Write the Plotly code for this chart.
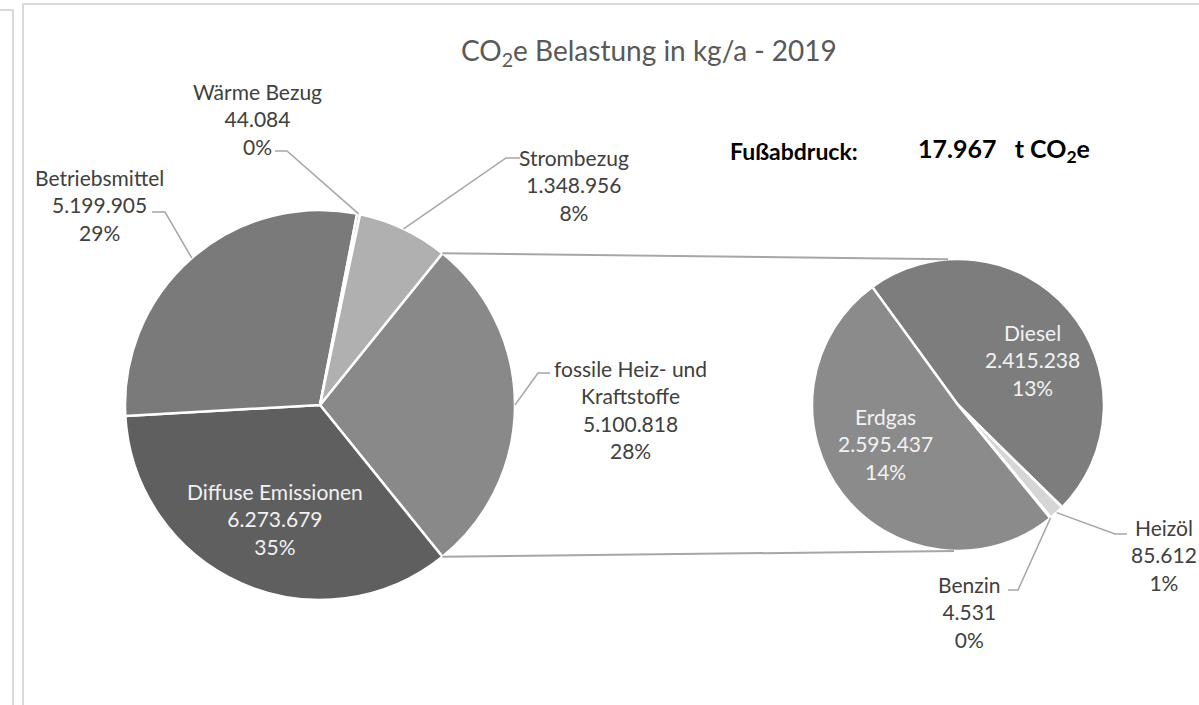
import math
import plotly.graph_objects as go

W, H = 1199, 705

# Hauptkreis (im Uhrzeigersinn, beginnend an der Oberkante des abgeteilten Segments)
main_names = ["fossile Heiz- und<br>Kraftstoffe", "Diffuse Emissionen", "Betriebsmittel", "Wärme Bezug", "Strombezug"]
main_values = [5100818, 6273679, 5199905, 44084, 1348956]
main_pct = ["28%", "35%", "29%", "0%", "8%"]

# Sekundärkreis = Aufteilung der fossilen Heiz- und Kraftstoffe
sub_names = ["Diesel", "Heizöl", "Benzin", "Erdgas"]
sub_values = [2415238, 85612, 4531, 2595437]
sub_pct = ["13%", "1%", "0%", "14%"]

main_colors = ["#898989", "#5f5f5f", "#7a7a7a", "#9c9c9c", "#b0b0b0"]
sub_colors = ["#7d7d7d", "#d6d6d6", "#bdbdbd", "#8b8b8b"]

FONT = "Lato, Open Sans, sans-serif"
TXT = "#404040"
LEAD = "#a6a6a6"

C1, R1 = (320, 405), 195
C2, R2 = (958, 405), 146
total = sum(main_values)
rot1 = 90 - 180 * main_values[0] / total
rot2 = -36


def de(v):
    return f"{v:,}".replace(",", ".")


def dom(c, r):
    return dict(x=[(c[0] - r) / W, (c[0] + r) / W], y=[1 - (c[1] + r) / H, 1 - (c[1] - r) / H])


def mid_point(values, i, rot, c, r):
    tot = sum(values)
    a = math.radians(rot + 360 * (sum(values[:i]) + values[i] / 2) / tot)
    return c[0] + r * math.sin(a), c[1] - r * math.cos(a)


def edge_point(values, i, rot, c, r):
    tot = sum(values)
    a = math.radians(rot + 360 * sum(values[:i]) / tot)
    return c[0] + r * math.sin(a), c[1] - r * math.cos(a)


def P(x, y):
    return x / W, 1 - y / H


fig = go.Figure()
fig.add_trace(go.Pie(
    values=main_values, labels=[n.replace("<br>", " ") for n in main_names],
    sort=False, direction="clockwise", rotation=rot1,
    marker=dict(colors=main_colors, line=dict(color="white", width=2.5)),
    textinfo="none", hoverinfo="label+value+percent", showlegend=False,
    domain=dom(C1, R1),
))
fig.add_trace(go.Pie(
    values=sub_values, labels=sub_names,
    sort=False, direction="clockwise", rotation=rot2,
    marker=dict(colors=sub_colors, line=dict(color="white", width=2.5)),
    textinfo="none", hoverinfo="label+value", showlegend=False,
    domain=dom(C2, R2),
))

shapes = []


def poly(pts, color=LEAD, width=1.5):
    d = "M " + " L ".join(f"{P(*p)[0]:.5f},{P(*p)[1]:.5f}" for p in pts)
    shapes.append(dict(type="path", xref="paper", yref="paper", path=d,
                       line=dict(color=color, width=width)))


# Verbindungslinien zwischen den Kreisen
top1 = edge_point(main_values, 0, rot1, C1, R1)
bot1 = edge_point(main_values, 1, rot1, C1, R1)
poly([top1, (C2[0] - 10, C2[1] - math.sqrt(R2 ** 2 - 100))], width=2)
poly([bot1, (C2[0] - 4, C2[1] + math.sqrt(R2 ** 2 - 16))], width=2)

# Rahmen
frame = "#d9d9d9"
poly([(0, 10), (13, 10), (13, H)], frame, 2)
poly([(23, H), (23, 4), (W, 4)], frame, 2)

annotations = []


def label(text, x, y, color=TXT, size=21):
    annotations.append(dict(text=text, x=P(x, y)[0], y=P(x, y)[1], xref="paper", yref="paper",
                            showarrow=False, xanchor="center", yanchor="middle", align="center",
                            font=dict(family=FONT, size=size, color=color)))


# Beschriftungen Hauptkreis: (Textmitte, Startpunkt der Führungslinie, Knick)
main_pos = [
    ((630, 410), (550, 373), (538, 373)),
    ((275, 519), None, None),
    ((100, 205), (152, 212), (165, 212)),
    ((257, 119), (275, 151), (287, 151)),
    ((574, 185), (520, 158), (506, 158)),
]
for i, (t, s, k) in enumerate(main_pos):
    inside = s is None
    label(f"{main_names[i]}<br>{de(main_values[i])}<br>{main_pct[i]}", *t,
          color="#f2f2f2" if inside else TXT)
    if not inside:
        poly([s, k, mid_point(main_values, i, rot1, C1, R1)])

sub_pos = [
    ((1032, 360), None, None),
    ((1164, 555), (1127, 534), (1115, 534)),
    ((969, 612), (1008, 590), (1018, 590)),
    ((885, 444), None, None),
]
for i, (t, s, k) in enumerate(sub_pos):
    inside = s is None
    label(f"{sub_names[i]}<br>{de(sub_values[i])}<br>{sub_pct[i]}", *t,
          color="#f2f2f2" if inside else TXT)
    if not inside:
        poly([s, k, mid_point(sub_values, i, rot2, C2, R2)])

# Titel und Fußabdruck
label("CO<sub>2</sub>e Belastung in kg/a - 2019", 649, 52, color="#595959", size=28)
annotations.append(dict(text="<b>Fußabdruck:</b>", x=P(728, 151)[0], y=P(728, 151)[1],
                        xref="paper", yref="paper", showarrow=False, xanchor="left", yanchor="middle",
                        font=dict(family=FONT, size=23, color="#000000")))
annotations.append(dict(text=f"<b>{de(round(total / 1000))}   t CO<sub>2</sub>e</b>",
                        x=P(916, 150)[0], y=P(916, 150)[1],
                        xref="paper", yref="paper", showarrow=False, xanchor="left", yanchor="middle",
                        font=dict(family=FONT, size=25, color="#000000")))

fig.update_layout(
    width=W, height=H,
    margin=dict(l=0, r=0, t=0, b=0),
    paper_bgcolor="white", plot_bgcolor="white",
    shapes=shapes, annotations=annotations,
    font=dict(family=FONT),
)
fig.write_html("out.html", config={"displayModeBar": False},
               post_script="document.body.style.margin = '0';")
